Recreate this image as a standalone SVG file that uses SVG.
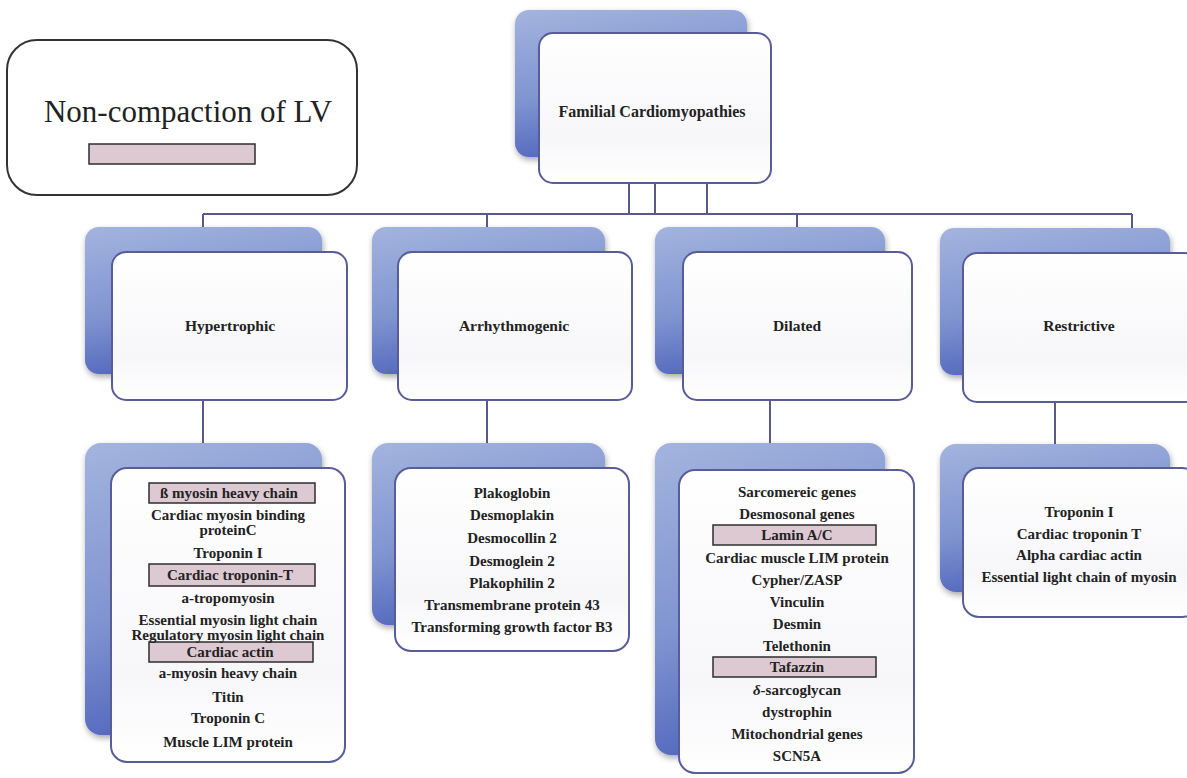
<svg xmlns="http://www.w3.org/2000/svg" width="1187" height="778" viewBox="0 0 1187 778">
<defs>
<linearGradient id="blue" x1="0" y1="0" x2="0.25" y2="1">
<stop offset="0" stop-color="#a3b4de"/>
<stop offset="0.6" stop-color="#7f93d0"/>
<stop offset="1" stop-color="#5467bd"/>
</linearGradient>
<linearGradient id="white" x1="0" y1="0" x2="0" y2="1">
<stop offset="0" stop-color="#ffffff"/>
<stop offset="0.7" stop-color="#f7f6f9"/>
<stop offset="1" stop-color="#ffffff"/>
</linearGradient>
<filter id="sh" x="-10%" y="-10%" width="130%" height="130%">
<feGaussianBlur in="SourceAlpha" stdDeviation="3"/>
<feOffset dx="1" dy="3"/>
<feComponentTransfer><feFuncA type="linear" slope="0.35"/></feComponentTransfer>
<feMerge><feMergeNode/><feMergeNode in="SourceGraphic"/></feMerge>
</filter>
</defs>
<style>
.back{fill:url(#blue);filter:url(#sh)}
.front{fill:url(#white);stroke:#585d98;stroke-width:2}
.t{font-family:"Liberation Serif","Times New Roman",serif;font-weight:bold;font-size:15px;fill:#222;text-anchor:middle}
.lbl{font-size:15.5px}
.hl{fill:#dcc9d2;stroke:#2e2e2e;stroke-width:1.5}
.conn{stroke:#585a8e;stroke-width:2;fill:none}
</style>
<rect width="1187" height="778" fill="#ffffff"/>

<g id="noncompaction">
<rect x="7" y="40" width="350" height="155" rx="30" fill="#ffffff" stroke="#333" stroke-width="2"/>
<text x="188" y="122" style="font-family:'Liberation Serif','Times New Roman',serif;font-size:31px;fill:#222;text-anchor:middle">Non-compaction of LV</text>
<rect class="hl" x="89" y="144" width="166" height="20"/>
</g>

<g id="connectors">
<path class="conn" d="M629 183V214M655 183V214M707 183V214"/>
<path class="conn" d="M203 214H1132"/>
<path class="conn" d="M203 214V228M487 214V228M797 214V228M1132 214V228"/>
<path class="conn" d="M203 400V444M487 400V444M770 400V444M1055 402V444"/>
</g>

<g id="familial">
<rect class="back" x="515" y="10" width="232" height="147" rx="14"/>
<rect class="front" x="539" y="33" width="232" height="150" rx="14"/>
<text class="t" x="652" y="117" style="font-size:16px">Familial Cardiomyopathies</text>
</g>

<g id="hypertrophic">
<rect class="back" x="85" y="227" width="237" height="147" rx="14"/>
<rect class="front" x="112" y="252" width="235" height="148" rx="14"/>
<text class="t lbl" x="230" y="331">Hypertrophic</text>
</g>
<g id="arrhythmogenic">
<rect class="back" x="372" y="227" width="233" height="147" rx="14"/>
<rect class="front" x="398" y="252" width="234" height="148" rx="14"/>
<text class="t lbl" x="514" y="331">Arrhythmogenic</text>
</g>
<g id="dilated">
<rect class="back" x="655" y="227" width="230" height="147" rx="14"/>
<rect class="front" x="683" y="252" width="229" height="148" rx="14"/>
<text class="t lbl" x="797" y="331">Dilated</text>
</g>
<g id="restrictive">
<rect class="back" x="940" y="228" width="230" height="147" rx="14"/>
<rect class="front" x="963" y="253" width="235" height="149" rx="14"/>
<text class="t lbl" x="1079" y="331">Restrictive</text>
</g>

<g id="hypertrophic-genes">
<rect class="back" x="85" y="443" width="237" height="292" rx="16"/>
<rect class="front" x="111" y="468" width="234" height="294" rx="16"/>
<rect class="hl" x="149" y="483" width="166" height="20"/>
<rect class="hl" x="149" y="564" width="166" height="22"/>
<rect class="hl" x="149" y="642" width="164" height="20"/>
<text class="t" x="229" y="498">ß myosin heavy chain</text>
<text class="t" x="228" y="520">Cardiac myosin binding</text>
<text class="t" x="228" y="535">proteinC</text>
<text class="t" x="228" y="558">Troponin I</text>
<text class="t" x="230" y="580">Cardiac troponin-T</text>
<text class="t" x="228" y="603">a-tropomyosin</text>
<text class="t" x="228" y="625">Essential myosin light chain</text>
<text class="t" x="228" y="640">Regulatory myosin light chain</text>
<text class="t" x="230" y="657">Cardiac actin</text>
<text class="t" x="228" y="678">a-myosin heavy chain</text>
<text class="t" x="228" y="702">Titin</text>
<text class="t" x="228" y="723">Troponin C</text>
<text class="t" x="228" y="747">Muscle LIM protein</text>
</g>

<g id="arrhythmogenic-genes">
<rect class="back" x="372" y="443" width="233" height="182" rx="16"/>
<rect class="front" x="395" y="468" width="234" height="183" rx="16"/>
<text class="t" x="512" y="498">Plakoglobin</text>
<text class="t" x="512" y="520">Desmoplakin</text>
<text class="t" x="512" y="543">Desmocollin 2</text>
<text class="t" x="512" y="566">Desmoglein 2</text>
<text class="t" x="512" y="588">Plakophilin 2</text>
<text class="t" x="512" y="610">Transmembrane protein 43</text>
<text class="t" x="512" y="632">Transforming growth factor B3</text>
</g>

<g id="dilated-genes">
<rect class="back" x="655" y="443" width="230" height="312" rx="16"/>
<rect class="front" x="679" y="470" width="235" height="303" rx="16"/>
<rect class="hl" x="713" y="525" width="163" height="20"/>
<rect class="hl" x="713" y="657" width="163" height="20"/>
<text class="t" x="797" y="497">Sarcomereic genes</text>
<text class="t" x="797" y="519">Desmosonal genes</text>
<text class="t" x="797" y="540">Lamin A/C</text>
<text class="t" x="797" y="563">Cardiac muscle LIM protein</text>
<text class="t" x="797" y="585">Cypher/ZASP</text>
<text class="t" x="797" y="607">Vinculin</text>
<text class="t" x="797" y="629">Desmin</text>
<text class="t" x="797" y="651">Telethonin</text>
<text class="t" x="797" y="672">Tafazzin</text>
<text class="t" x="797" y="695"><tspan font-style="italic">δ</tspan>-sarcoglycan</text>
<text class="t" x="797" y="717">dystrophin</text>
<text class="t" x="797" y="739">Mitochondrial genes</text>
<text class="t" x="797" y="761">SCN5A</text>
</g>

<g id="restrictive-genes">
<rect class="back" x="940" y="444" width="230" height="148" rx="16"/>
<rect class="front" x="963" y="468" width="235" height="149" rx="16"/>
<text class="t" x="1079" y="517">Troponin I</text>
<text class="t" x="1079" y="539">Cardiac troponin T</text>
<text class="t" x="1079" y="560">Alpha cardiac actin</text>
<text class="t" x="1079" y="582">Essential light chain of myosin</text>
</g>
</svg>
